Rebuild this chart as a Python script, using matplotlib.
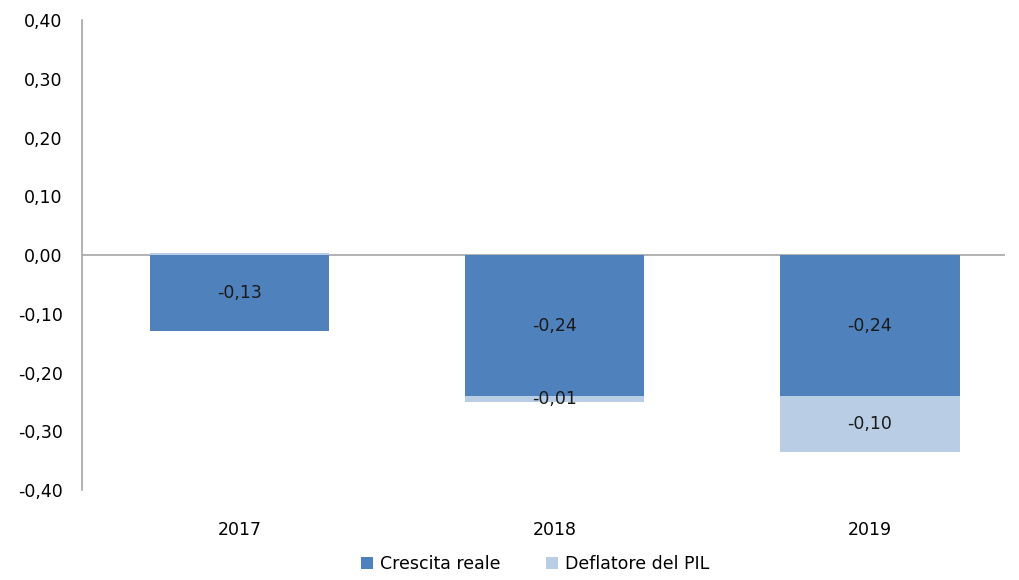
import numpy as np
import matplotlib.pyplot as plt

# Data
years = ["2017", "2018", "2019"]
crescita = [-0.13, -0.24, -0.24]
deflatore = [0.004, -0.01, -0.095]
crescita_labels = ["-0,13", "-0,24", "-0,24"]
deflatore_labels = ["", "-0,01", "-0,10"]
yticks = [-0.4, -0.3, -0.2, -0.1, 0.0, 0.1, 0.2, 0.3, 0.4]

blue = "#4F81BD"
light = "#B9CDE5"
grey = "#A6A6A6"

fig = plt.figure(figsize=(10.19, 5.8), dpi=100)
ax = fig.add_axes([0.0805, 0.155, 0.906, 0.8105])

x = np.arange(len(years))
crescita = np.array(crescita)
deflatore = np.array(deflatore)
# stack negatives below crescita, positives above zero
defl_bottom = np.where(deflatore < 0, crescita, 0.0)

b1 = ax.bar(x, crescita, width=0.57, color=blue, label="Crescita reale")
b2 = ax.bar(x, deflatore, width=0.57, bottom=defl_bottom, color=light, label="Deflatore del PIL")

ax.bar_label(b1, labels=crescita_labels, label_type="center", fontsize=12.5, color="#1a1a1a")
ax.bar_label(b2, labels=deflatore_labels, label_type="center", fontsize=12.5, color="#1a1a1a")

ax.axhline(0, color=grey, lw=1.2, zorder=0)

ax.set_xlim(-0.5, 2.43)
ax.set_ylim(-0.4, 0.4)
ax.set_yticks(yticks)
ax.set_yticklabels([f"{v:.2f}".replace(".", ",") for v in yticks], fontsize=12.5)
ax.set_xticks(x)
ax.set_xticklabels(years, fontsize=12.5)
ax.tick_params(axis="both", length=0)
ax.tick_params(axis="y", pad=14)
ax.tick_params(axis="x", pad=22)

for s in ["top", "right", "bottom"]:
    ax.spines[s].set_visible(False)
ax.spines["left"].set_color(grey)
ax.spines["left"].set_linewidth(1.2)

fig.legend(handles=[b1, b2], loc="lower center", ncol=2, frameon=False,
           fontsize=12.5, bbox_to_anchor=(0.525, -0.015), handlelength=0.7,
           handleheight=0.7, columnspacing=2.6, handletextpad=0.4)

fig.savefig("out.png", dpi=100)
